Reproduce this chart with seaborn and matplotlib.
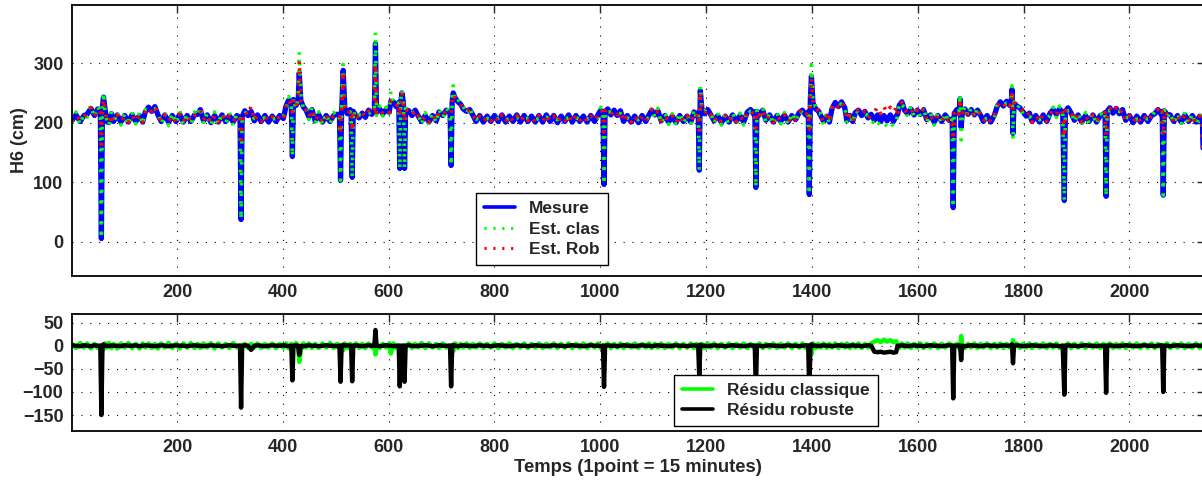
import matplotlib
matplotlib.use('Agg')
import matplotlib.pyplot as plt
import pandas as pd
import seaborn as sns

# Releves (1 point = 15 minutes)
temps = [
    1, 9, 17, 24, 30, 37, 44, 50, 55, 57,
    59, 61, 64, 67, 71, 76, 80, 87, 94, 101,
    108, 115, 122, 129, 135, 140, 146, 152, 158, 164,
    170, 177, 184, 191, 198, 205, 212, 219, 226, 233,
    239, 244, 250, 257, 264, 271, 278, 285, 292, 299,
    306, 313, 319, 321, 323, 328, 334, 340, 346, 352,
    359, 366, 373, 380, 387, 394, 401, 406, 411, 416,
    418, 420, 425, 429, 431, 434, 439, 444, 449, 455,
    461, 468, 475, 482, 489, 496, 502, 507, 509, 511,
    514, 517, 522, 527, 529, 531, 533, 538, 544, 550,
    556, 562, 568, 573, 575, 577, 583, 589, 595, 601,
    604, 609, 614, 619, 621, 623, 625, 628, 630, 632,
    638, 644, 650, 656, 662, 669, 676, 683, 690, 695,
    702, 709, 716, 718, 720, 722, 726, 731, 736, 741,
    747, 753, 759, 765, 772, 779, 786, 793, 800, 807,
    814, 821, 828, 835, 842, 849, 856, 863, 870, 877,
    884, 891, 898, 905, 912, 919, 926, 933, 940, 947,
    954, 961, 968, 975, 982, 989, 996, 1001, 1005, 1007,
    1009, 1014, 1020, 1026, 1032, 1038, 1044, 1051, 1058, 1065,
    1072, 1079, 1086, 1092, 1097, 1103, 1109, 1115, 1122, 1129,
    1136, 1143, 1150, 1157, 1164, 1171, 1177, 1182, 1185, 1187,
    1189, 1192, 1197, 1203, 1209, 1215, 1222, 1229, 1236, 1243,
    1250, 1257, 1264, 1271, 1278, 1284, 1290, 1292, 1294, 1296,
    1301, 1307, 1313, 1320, 1327, 1334, 1341, 1348, 1355, 1362,
    1369, 1376, 1382, 1388, 1393, 1395, 1397, 1399, 1402, 1407,
    1412, 1417, 1422, 1428, 1433, 1438, 1444, 1450, 1456, 1462,
    1466, 1472, 1477, 1482, 1488, 1494, 1500, 1506, 1512, 1518,
    1524, 1530, 1536, 1542, 1548, 1554, 1559, 1562, 1565, 1570,
    1575, 1581, 1587, 1593, 1599, 1605, 1611, 1617, 1624, 1631,
    1638, 1645, 1652, 1659, 1665, 1667, 1669, 1674, 1678, 1680,
    1682, 1684, 1689, 1695, 1701, 1707, 1713, 1719, 1724, 1731,
    1738, 1745, 1750, 1756, 1762, 1768, 1774, 1777, 1778, 1780,
    1782, 1787, 1793, 1799, 1805, 1811, 1816, 1823, 1830, 1837,
    1844, 1850, 1856, 1862, 1868, 1874, 1877, 1879, 1884, 1890,
    1896, 1903, 1910, 1917, 1924, 1931, 1938, 1945, 1951, 1954,
    1956, 1958, 1963, 1969, 1975, 1981, 1987, 1993, 2000, 2007,
    2014, 2021, 2028, 2035, 2042, 2048, 2054, 2060, 2062, 2064,
    2066, 2071, 2077, 2084, 2091, 2098, 2105, 2112, 2119, 2126,
    2133, 2138, 2142,
]

mesure = [
    203, 213, 202, 212, 214, 224, 212, 223, 218, 5,
    228, 243, 222, 202, 200, 215, 202, 213, 201, 212,
    201, 213, 202, 212, 201, 218, 226, 219, 227, 213,
    202, 213, 201, 212, 202, 214, 201, 212, 202, 213,
    214, 222, 203, 213, 200, 212, 201, 213, 202, 212,
    201, 212, 208, 37, 210, 220, 212, 219, 203, 213,
    202, 212, 201, 211, 202, 212, 207, 228, 238, 229,
    143, 239, 229, 238, 284, 237, 226, 221, 210, 222,
    203, 213, 201, 212, 202, 212, 214, 214, 103, 216,
    288, 225, 215, 222, 217, 108, 219, 212, 208, 216,
    209, 221, 214, 221, 333, 217, 223, 215, 222, 217,
    236, 235, 227, 234, 123, 236, 250, 233, 123, 222,
    220, 212, 221, 211, 202, 212, 201, 212, 203, 218,
    212, 221, 216, 128, 235, 250, 241, 235, 231, 223,
    219, 222, 213, 202, 212, 201, 211, 202, 212, 202,
    213, 201, 211, 202, 213, 201, 212, 202, 211, 201,
    212, 201, 213, 202, 212, 200, 211, 202, 213, 201,
    212, 202, 211, 201, 212, 202, 214, 221, 217, 96,
    219, 223, 213, 221, 212, 220, 202, 212, 201, 211,
    200, 212, 202, 213, 221, 213, 220, 203, 212, 201,
    211, 200, 212, 202, 211, 201, 218, 212, 217, 120,
    254, 223, 215, 222, 213, 203, 212, 200, 211, 201,
    213, 202, 212, 201, 218, 222, 214, 218, 91, 219,
    213, 221, 204, 213, 201, 212, 202, 213, 201, 212,
    205, 217, 221, 213, 218, 79, 240, 278, 233, 223,
    220, 211, 202, 211, 201, 224, 234, 227, 235, 225,
    203, 212, 202, 217, 221, 212, 219, 208, 214, 204,
    213, 202, 212, 203, 213, 202, 211, 214, 229, 235,
    221, 215, 223, 213, 221, 214, 222, 205, 213, 201,
    212, 202, 213, 204, 206, 57, 216, 222, 215, 240,
    192, 215, 223, 214, 222, 213, 221, 212, 202, 212,
    201, 213, 227, 235, 228, 236, 229, 238, 256, 182,
    233, 228, 225, 218, 211, 216, 202, 212, 201, 213,
    202, 216, 222, 214, 223, 217, 69, 219, 225, 216,
    204, 213, 201, 212, 202, 213, 201, 212, 214, 217,
    76, 219, 225, 216, 224, 215, 222, 204, 212, 200,
    211, 201, 212, 202, 212, 215, 222, 214, 219, 78,
    220, 214, 213, 202, 212, 201, 213, 202, 212, 201,
    211, 207, 30,
]

residu_clas = [
    4, -5, 6, -4, 5, -6, 4, -5, 1, 0,
    -3, -8, 5, -4, 6, -5, 4, -6, 5, -4,
    6, -5, 4, -6, 5, -4, 5, -5, 4, -6,
    5, -4, 6, -5, 4, -6, 5, -4, 6, -5,
    4, -5, 5, -4, 6, -6, 5, -4, 4, -5,
    6, -4, 1, 0, -1, 4, -5, 4, -4, 5,
    -5, 4, -4, 5, -5, 4, -4, 5, -6, 4,
    0, -3, 6, -5, -35, -10, 5, -4, 5, -5,
    4, -5, 5, -4, 6, -5, 4, 1, 0, -2,
    -10, 5, -5, 4, 1, 0, -2, 5, -5, 4,
    -5, 5, -4, 4, -19, 5, -5, 4, -4, 5,
    -17, 5, -5, 1, 0, -2, -5, 1, 0, -2,
    5, -5, 4, -4, 6, -5, 5, -4, 4, -5,
    5, -4, 1, 0, -5, -12, 5, -5, 4, -4,
    5, -5, 4, -4, 5, -5, 4, -4, 5, -5,
    4, -4, 5, -5, 4, -4, 5, -5, 4, -4,
    5, -5, 4, -4, 5, -5, 4, -4, 5, -5,
    4, -4, 5, -5, 4, -4, 5, -5, 1, 0,
    -1, 5, -5, 4, -4, 5, -5, 4, -4, 5,
    -5, 4, -4, 5, -5, 4, -4, 5, -5, 4,
    -4, 5, -5, 4, -4, 5, -5, 4, 1, 0,
    -8, 4, -5, 5, -4, 5, -5, 4, -4, 5,
    -5, 4, -4, 5, -5, 4, -4, 1, 0, -1,
    5, -5, 4, -4, 5, -5, 4, -4, 5, -5,
    4, -4, 5, -5, 1, 0, -5, -19, 5, -5,
    4, -4, 5, -5, 4, -4, 5, -5, 4, -4,
    5, -5, 4, -4, 5, -5, 4, -4, 5, 9,
    12, 8, 13, 9, 12, 8, 10, 2, -5, 5,
    -4, 5, -5, 4, -4, 5, -5, 4, -4, 5,
    -5, 4, -4, 5, 1, 0, -1, 4, -5, -8,
    21, 2, -5, 4, -4, 5, -5, 4, -4, 5,
    -5, 4, -4, 5, -5, 4, -4, -4, -6, 12,
    -2, 5, -5, 4, -4, 5, -5, 4, -4, 5,
    -5, 4, -4, 5, -5, 1, 0, -1, 5, -5,
    4, -4, 5, -5, 4, -4, 5, -5, 4, 1,
    0, -1, 5, -5, 4, -4, 5, -5, 4, -4,
    5, -5, 4, -4, 5, -5, 4, -4, 1, 0,
    -1, 5, -5, 4, -4, 5, -5, 4, -4, 5,
    -5, 4, 0,
]

residu_rob = [
    1, 0, -1, 1, 0, -1, 1, 0, 0, -150,
    0, 3, 0, 0, -1, 1, 0, 0, -1, 1,
    0, 0, 1, -1, 0, 1, 0, 0, -1, 0,
    1, 0, -1, 0, 1, 0, 0, -1, 0, 1,
    0, 0, -1, 0, 1, 0, 0, -1, 0, 1,
    0, 0, 0, -134, 0, 1, 0, -9, 0, 1,
    0, -1, 0, 1, 0, 0, 1, 0, -1, 0,
    -75, 0, 1, 0, -20, 0, -1, 0, 1, 0,
    0, -1, 0, 1, 0, 0, -1, 0, -78, 0,
    2, 0, 1, 0, 0, -77, 0, 1, 0, -1,
    0, 1, 0, 0, 34, 0, -1, 0, 1, 0,
    0, -1, 0, 0, -88, 0, 0, 0, -78, 0,
    1, 0, -1, 0, 0, 1, 0, -1, 0, 1,
    0, 0, 0, -88, 0, 2, 0, -1, 0, 1,
    0, 0, -1, 0, 1, 0, 0, -1, 0, 1,
    0, 0, -1, 0, 1, 0, 0, -1, 0, 1,
    0, 0, -1, 0, 1, 0, 0, -1, 0, 1,
    0, 0, -1, 0, 1, 0, 0, -1, 0, -89,
    0, 1, 0, 0, -1, 0, 1, 0, 0, -1,
    0, 1, 0, 0, -1, 0, 1, 0, 0, -1,
    0, 1, 0, 0, -1, 0, 1, 0, 0, -67,
    2, 0, 0, -1, 0, 1, 0, 0, -1, 0,
    1, 0, 0, -1, 0, 1, 0, 0, -100, 0,
    0, -1, 0, 1, 0, 0, -1, 0, 1, 0,
    0, -1, 0, 1, 0, -110, 0, 3, 0, 0,
    -1, 0, 1, 0, 0, -1, 0, 1, 0, 0,
    -1, 0, 1, 0, 0, -1, 0, 1, 0, -13,
    -14, -13, -15, -14, -13, -15, -14, 0, 0, 1,
    0, -1, 0, 1, 0, 0, -1, 0, 1, 0,
    0, -1, 0, 1, 0, -114, 0, 0, 1, 0,
    -31, 0, -1, 0, 1, 0, 0, -1, 0, 1,
    0, 0, -1, 0, 1, 0, 0, 0, 3, -38,
    0, 1, 0, -1, 0, 0, 1, 0, 0, -1,
    0, 1, 0, 0, -1, 0, -106, 0, 1, 0,
    0, -1, 0, 1, 0, 0, -1, 0, 0, 0,
    -102, 0, 1, 0, -1, 0, 0, 1, 0, 0,
    -1, 0, 1, 0, 0, -1, 0, 1, 0, -100,
    0, 0, -1, 0, 1, 0, 0, -1, 0, 1,
    0, 0, 0,
]

x_ticks = [200, 400, 600, 800, 1000, 1200, 1400, 1600, 1800, 2000]
h_ticks = [0, 100, 200, 300]
r_ticks = [-150, -100, -50, 0, 50]

sns.set_style('white')
plt.rcParams['font.family'] = ['Liberation Sans', 'DejaVu Sans']
plt.rcParams['font.weight'] = 'bold'
plt.rcParams['font.size'] = 13

df = pd.DataFrame({'temps': temps, 'mesure': mesure,
                   'res_clas': residu_clas, 'res_rob': residu_rob})
# estimations = mesure - residu
df['est_clas'] = df['mesure'] - df['res_clas']
df['est_rob'] = df['mesure'] - df['res_rob']

fig = plt.figure(figsize=(12.02, 4.84), dpi=100)
ax1 = fig.add_axes([0.0597, 0.4298, 0.9424, 0.5599])
ax2 = fig.add_axes([0.0597, 0.1101, 0.9424, 0.2405])

dotted = (0, (0.7, 2.2))
sns.lineplot(data=df, x='temps', y='mesure', ax=ax1, color='#0000ff', lw=3.8,
             sort=False, estimator=None, label='Mesure')
sns.lineplot(data=df, x='temps', y='est_clas', ax=ax1, color='#00ff00', lw=2.6,
             linestyle=dotted, sort=False, estimator=None, label='Est. clas')
sns.lineplot(data=df, x='temps', y='est_rob', ax=ax1, color='#ff0000', lw=2.6,
             linestyle=dotted, sort=False, estimator=None, label='Est. Rob')

sns.lineplot(data=df, x='temps', y='res_clas', ax=ax2, color='#00ff00', lw=3.2,
             sort=False, estimator=None, label='Résidu classique')
sns.lineplot(data=df, x='temps', y='res_rob', ax=ax2, color='black', lw=3.2,
             sort=False, estimator=None, label='Résidu robuste')


def habiller(ax, ylim, yticks):
    ax.set_xlim(1, 2142)
    ax.set_ylim(*ylim)
    ax.set_xticks(x_ticks)
    ax.set_yticks(yticks)
    ax.grid(True, color='black', linestyle=(0, (1, 7)), linewidth=0.8)
    ax.set_axisbelow(True)
    ax.tick_params(direction='in', length=6, width=1, top=True, right=True,
                   labelsize=13, pad=6)
    for s in ax.spines.values():
        s.set_linewidth(1.3)
        s.set_color('black')
    ax.set_xlabel('')
    ax.set_ylabel('')


habiller(ax1, (-58, 398), h_ticks)
habiller(ax2, (-184, 68), r_ticks)

ax1.set_ylabel('H6 (cm)', fontsize=13, fontweight='bold', labelpad=3.5)
ax2.set_xlabel('Temps (1point = 15 minutes)', fontsize=13.3, fontweight='bold', labelpad=2)

leg_kw = dict(loc='lower left', frameon=True, fancybox=False, framealpha=1,
              edgecolor='black', borderaxespad=0, handlelength=1.8,
              handletextpad=0.8, labelspacing=0.3, borderpad=0.45,
              prop={'size': 12.5, 'weight': 'bold'})
leg1 = ax1.legend(bbox_to_anchor=(0.357, 0.041), **leg_kw)
leg2 = ax2.legend(bbox_to_anchor=(0.532, 0.040), **leg_kw)
for leg in (leg1, leg2):
    leg.get_frame().set_linewidth(1.0)
# traits de legende un peu plus fins que les courbes
for line, w in zip(leg1.get_lines(), [2.6, 2.2, 2.2]):
    line.set_linewidth(w)
for line in leg2.get_lines():
    line.set_linewidth(2.6)

fig.savefig('out.png', dpi=100)
